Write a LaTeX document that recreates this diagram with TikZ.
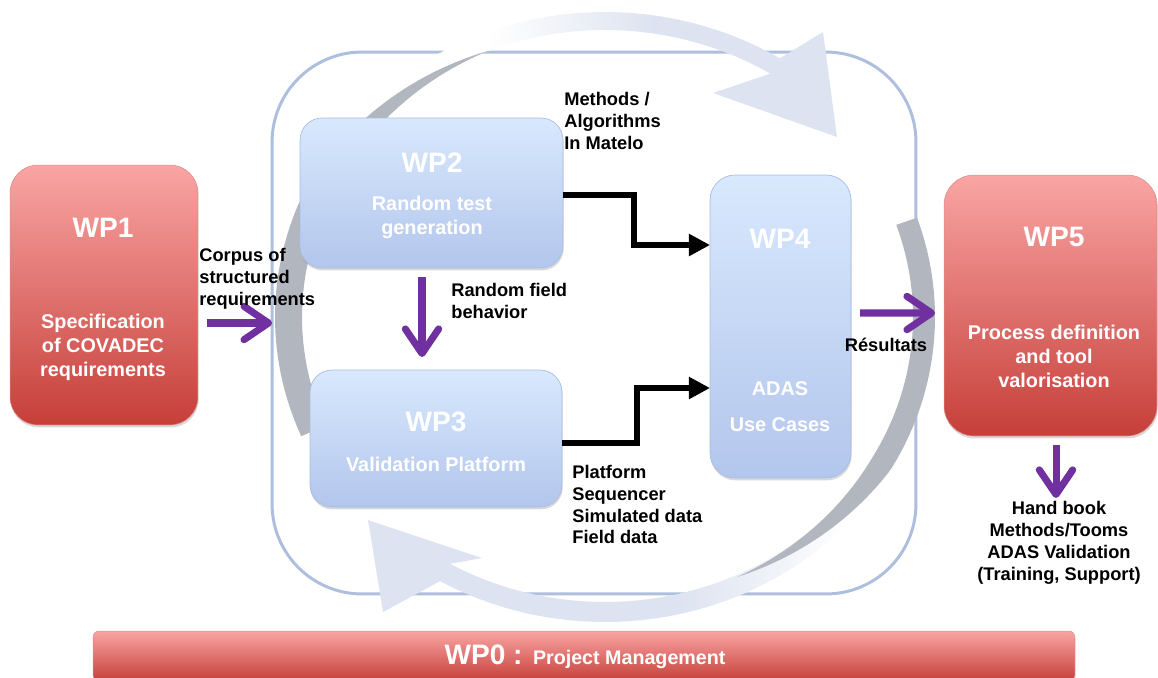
\documentclass[tikz,border=0pt]{standalone}
\usepackage{fontspec}
\setmainfont{Liberation Sans}
\usetikzlibrary{arrows.meta,shadows,calc}
\definecolor{redT}{HTML}{F9A5A4}
\definecolor{redM}{HTML}{E97875}
\definecolor{redB}{HTML}{C63F39}
\definecolor{blueT}{HTML}{D8E8FD}
\definecolor{blueB}{HTML}{B3C6EC}
\definecolor{blueE}{HTML}{A9BDE2}
\definecolor{contline}{HTML}{AEBFDD}
\definecolor{arcl}{HTML}{DDE3F0}
\definecolor{arcgray}{HTML}{B2B6BE}
\definecolor{purp}{HTML}{7030A0}
\pgfdeclarehorizontalshading{topfade}{100bp}{color(0bp)=(white); color(39bp)=(white); color(56bp)=(arcl); color(100bp)=(arcl)}
\pgfdeclarehorizontalshading{botfade}{100bp}{color(0bp)=(arcl); color(54bp)=(arcl); color(70bp)=(white); color(100bp)=(white)}
\newcommand\wptitle{\fontsize{16}{18}\selectfont\bfseries}
\newcommand\wpbody{\fontsize{11.3}{13.6}\selectfont\bfseries}
\newcommand\wplabel{\fontsize{10.4}{12.5}\selectfont\bfseries}
\begin{document}
\begin{tikzpicture}[x=0.02cm,y=-0.02cm,
  boxbase/.style={inner sep=0pt, outer sep=0pt, drop shadow={shadow xshift=0.4pt, shadow yshift=-1.4pt, opacity=0.3}},
  redbox/.style={boxbase, top color=redT, middle color=redM, bottom color=redB, draw=redB!60!white, line width=0.3pt},
  bluebox/.style={boxbase, top color=blueT, bottom color=blueB, draw=blueE, line width=0.4pt},
  ttl/.style={text=white, font=\wptitle, inner sep=0pt},
  body/.style={text=white, font=\wpbody, align=center, inner sep=0pt},
  lbl/.style={font=\wplabel, inner sep=0pt},
  blk/.style={line width=2.9pt, -{Triangle[length=12pt,width=12pt]}},
  pur/.style={draw=purp, line width=4pt, -{Straight Barb[length=14pt,width=19pt,round]}}
]
\useasboundingbox (0,0) rectangle (1158,677);

% container
\node[draw=contline, line width=1.7pt, rounded corners=1.8cm, minimum width=12.88cm, minimum height=10.84cm, inner sep=0pt, outer sep=0pt] (cont) at (594,323) {};

% circular arrows
\shade[shading=topfade, shading angle=0] plot[domain=140:58, samples=40, variable=\t] ({605+330*cos(\t)},{317-305*sin(\t)}) -- (823,32) -- (837,137) -- (713,93) -- plot[domain=58:140, samples=40, variable=\t] ({605+312*cos(\t)},{317-287*sin(\t)}) -- cycle;
\fill[arcgray] plot[domain=203:112, samples=60, variable=\t] ({605+(330-18*min(1,max(0,(158-(\t))/46)))*cos(\t)},{317-(305-18*min(1,max(0,(158-(\t))/46)))*sin(\t)}) -- plot[domain=112:203, samples=60, variable=\t] ({605+(330-18-9*min(1,max(0,((\t)-112)/46)))*cos(\t)},{317-(305-18-9*min(1,max(0,((\t)-112)/46)))*sin(\t)}) -- cycle;
\shade[shading=botfade, shading angle=0] plot[domain=-25:-120, samples=40, variable=\t] ({605+330*cos(\t)},{317-305*sin(\t)}) -- (383,612) -- (368,520) -- (482,558) -- plot[domain=-120:-25, samples=40, variable=\t] ({605+310*cos(\t)},{317-285*sin(\t)}) -- cycle;
\fill[arcgray] plot[domain=19:-65, samples=60, variable=\t] ({605+(330-18*min(1,max(0,(-30-(\t))/35)))*cos(\t)},{317-(305-18*min(1,max(0,(-30-(\t))/35)))*sin(\t)}) -- plot[domain=-65:19, samples=60, variable=\t] ({605+(330-22+4*min(1,max(0,(-30-(\t))/35)))*cos(\t)},{317-(305-22+4*min(1,max(0,(-30-(\t))/35)))*sin(\t)}) -- cycle;

% boxes
\node[redbox, rounded corners=0.56cm, minimum width=3.76cm, minimum height=5.2cm] (wp1) at (104,295) {};
\node[bluebox, rounded corners=0.44cm, minimum width=5.26cm, minimum height=3.0cm] (wp2) at (431.5,193) {};
\node[bluebox, rounded corners=0.44cm, minimum width=5.04cm, minimum height=2.74cm] (wp3) at (436,438.5) {};
\node[bluebox, rounded corners=0.5cm, minimum width=2.82cm, minimum height=6.06cm] (wp4) at (780.5,326.5) {};
\node[redbox, rounded corners=0.6cm, minimum width=4.26cm, minimum height=5.22cm] (wp5) at (1050.5,305.5) {};
\node[redbox, rounded corners=0.12cm, minimum width=19.64cm, minimum height=1.0cm] (wp0) at (584,656) {};

% box texts
\node[ttl] (t1) at (103,228) {WP1};
\node[body] (b1) at (103,347) {Specification\\of COVADEC\\requirements};
\node[ttl] (t2) at (432,163) {WP2};
\node[body] (b2) at (432,217) {Random test\\generation};
\node[ttl] (t3) at (436,422) {WP3};
\node[body] (b3) at (436,464) {Validation Platform};
\node[ttl] (t4) at (780,239) {WP4};
\node[body] (b4a) at (780,389) {ADAS};
\node[body] (b4b) at (780,425) {Use Cases};
\node[ttl] (t5) at (1054,237) {WP5};
\node[body] (b5) at (1054,356) {Process definition\\and tool\\valorisation};
\node[text=white, inner sep=0pt] (t0) at (585,657) {\fontsize{16}{18}\selectfont\bfseries WP0 : {\fontsize{11.2}{13}\selectfont Project Management}};

% black connectors
\draw[blk] ($(wp2.east)+(0,2)$) -- ++(71,0) |- ($(wp4.west)+(0,-81.5)$);
\draw[blk] ($(wp3.east)+(0,4.5)$) -- ++(75,0) |- ($(wp4.west)+(0,61.5)$);

% purple arrows
\draw[pur] ($(wp1.east)+(9,28)$) -- (cont.west);
\draw[pur] ($(wp2.south)+(-9.5,9)$) -- ($(wp3.north)+(-14,-13)$);
\draw[pur] ($(wp4.east)+(9,-13.5)$) -- ($(wp5.west)+(-9,7.5)$);
\draw[pur] ($(wp5.south)+(5.5,9)$) -- ($(wp5.south)+(5.5,62)$);

% labels
\node[lbl, align=left, anchor=west] (l1) at (199,279) {Corpus of\\structured\\requirements};
\node[lbl, align=left, anchor=west] (l2) at (564,121) {Methods /\\Algorithms\\In Matelo};
\node[lbl, align=left, anchor=west] (l3) at (451,301) {Random field\\behavior};
\node[lbl, align=left, anchor=west] (l4) at (572,504.5) {Platform\\Sequencer\\Simulated data\\Field data};
\node[lbl] (l5) at (886,345) {Résultats};
\node[lbl, align=center] (l6) at (1059,542.5) {Hand book\\Methods/Tooms\\ADAS Validation\\(Training, Support)};
\end{tikzpicture}
\end{document}
